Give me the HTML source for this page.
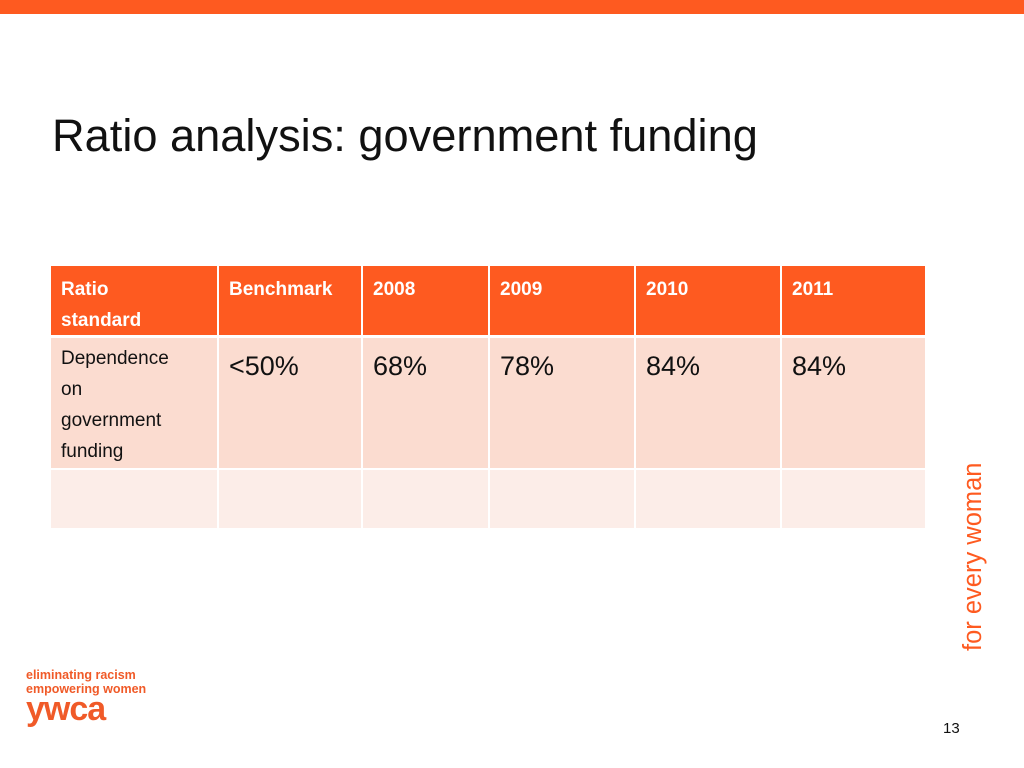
<!DOCTYPE html>
<html><head><meta charset="utf-8"><style>
body{margin:0;width:1024px;height:768px;background:#fff;position:relative;overflow:hidden;font-family:"Liberation Sans",sans-serif}
.c{position:absolute;box-sizing:border-box;padding:8px 10px;line-height:31px}
.h{background:#fe5a20;color:#fff;font-weight:bold;font-size:19px}
.r1{background:#fbdcd0;color:#111;font-size:19px}
.big{font-size:27px;line-height:56px;padding-top:0}
.r2{background:#fcede8}
</style></head><body>
<div style="position:absolute;left:0;top:0;width:1024px;height:14px;background:#fe5a20"></div>
<div style="position:absolute;left:52px;top:110px;font-size:45.2px;color:#111">Ratio analysis: government funding</div>
<div id="t"></div>
<div style="position:absolute;left:959px;top:651px;transform-origin:0 0;transform:rotate(-90deg);color:#fe5a20;font-size:25.5px;white-space:nowrap;width:220px">for every woman</div>
<div style="position:absolute;left:26px;top:668px;color:#f05a28;font-weight:bold;font-size:12.5px;line-height:14px">eliminating racism<br>empowering women<div style="font-size:34px;line-height:26px;letter-spacing:-1px">ywca</div></div>
<div style="position:absolute;left:943px;top:720px;font-size:15px;color:#111">13</div>
<script>
const xs=[51,219,363,490,636,782,927];
const rows=[[266,335],[338,468],[470,528]];
const header=["Ratio<br>standard","Benchmark","2008","2009","2010","2011"];
const values=["Dependence<br>on<br>government<br>funding","&lt;50%","68%","78%","84%","84%"];
const t=document.getElementById('t');
for(let r=0;r<3;r++)for(let c=0;c<6;c++){
 const d=document.createElement('div');
 d.className='c '+(r==0?'h':r==1?'r1':'r2')+(r==1&&c>0?' big':'');
 d.style.left=xs[c]+'px';d.style.top=rows[r][0]+'px';
 d.style.width=(xs[c+1]-xs[c]-2)+'px';d.style.height=(rows[r][1]-rows[r][0])+'px';
 if(r==0)d.innerHTML=header[c];else if(r==1)d.innerHTML=values[c];
 if(r==1&&c==0){d.style.lineHeight='31px';d.style.padding='5px 10px';}
 
 
 t.appendChild(d);
}
</script>
</body></html>
